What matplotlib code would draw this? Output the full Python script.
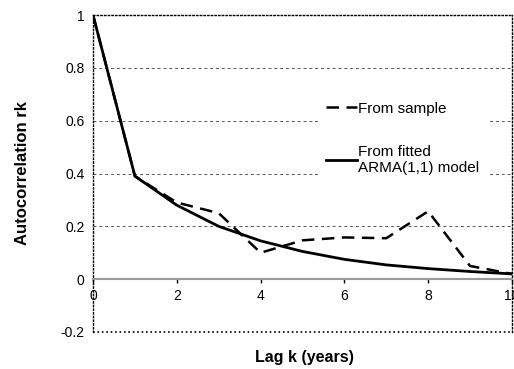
import matplotlib.pyplot as plt

plt.rcParams['font.family'] = ['Liberation Sans', 'DejaVu Sans']

# autocorrelation by lag (years)
lags = [0, 1, 2, 3, 4, 5, 6, 7, 8, 9, 10]
r_sample = [1.0, 0.39, 0.29, 0.25, 0.10, 0.147, 0.158, 0.155, 0.257, 0.05, 0.02]
r_arma = [1.0, 0.39, 0.28, 0.20, 0.145, 0.105, 0.075, 0.054, 0.04, 0.029, 0.02]
x_ticks = [0, 2, 4, 6, 8, 10]
y_ticks = [-0.2, 0, 0.2, 0.4, 0.6, 0.8, 1]
y_labels = ['-0.2', '0', '0.2', '0.4', '0.6', '0.8', '1']

fig = plt.figure(figsize=(5.14, 3.69), dpi=100)
ax = fig.add_axes([0.181, 0.1003, 0.815, 0.859])

ax.plot(lags, r_sample, color='black', lw=1.8, ls=(0, (5, 3)), label='From sample')
ax.plot(lags, r_arma, color='black', lw=2.0, label='From fitted\nARMA(1,1) model')

ax.set_xlim(0, 10)
ax.set_ylim(-0.2, 1)

for y in [0.2, 0.4, 0.6, 0.8]:
    ax.axhline(y, color='#555555', lw=0.7, ls=(0, (3, 3)), zorder=0)

# dotted frame round the plot area
for s in ['left', 'top', 'right']:
    ax.spines[s].set_linestyle(':')
    ax.spines[s].set_linewidth(1.0)
ax.axhline(-0.2, color='black', lw=1.2, ls=':', clip_on=False)

# x axis crosses at zero
ax.spines['bottom'].set_position(('data', 0))
ax.spines['bottom'].set_color('#999999')
ax.spines['bottom'].set_linewidth(1.5)

ax.set_xticks(x_ticks)
ax.set_xticklabels([str(t) for t in x_ticks])
ax.set_yticks(y_ticks)
ax.set_yticklabels(y_labels)
ax.tick_params(axis='x', length=3, width=1, color='black', labelsize=10, pad=4)
ax.tick_params(axis='y', length=0, labelsize=10, pad=6)

ax.set_ylabel('Autocorrelation rk', fontsize=12, fontweight='bold', labelpad=22)
fig.text(0.593, 0.02, 'Lag k (years)', fontsize=11.5, fontweight='bold', ha='center')

leg = ax.legend(loc='upper left', bbox_to_anchor=(0.52, 0.775), frameon=True,
                fontsize=11, handlelength=2.0, handletextpad=0.1,
                labelspacing=1.9, borderpad=0.5, fancybox=False)
leg.get_frame().set_facecolor('white')
leg.get_frame().set_edgecolor('white')
leg.get_frame().set_alpha(1)

fig.savefig('out.png', dpi=100)
